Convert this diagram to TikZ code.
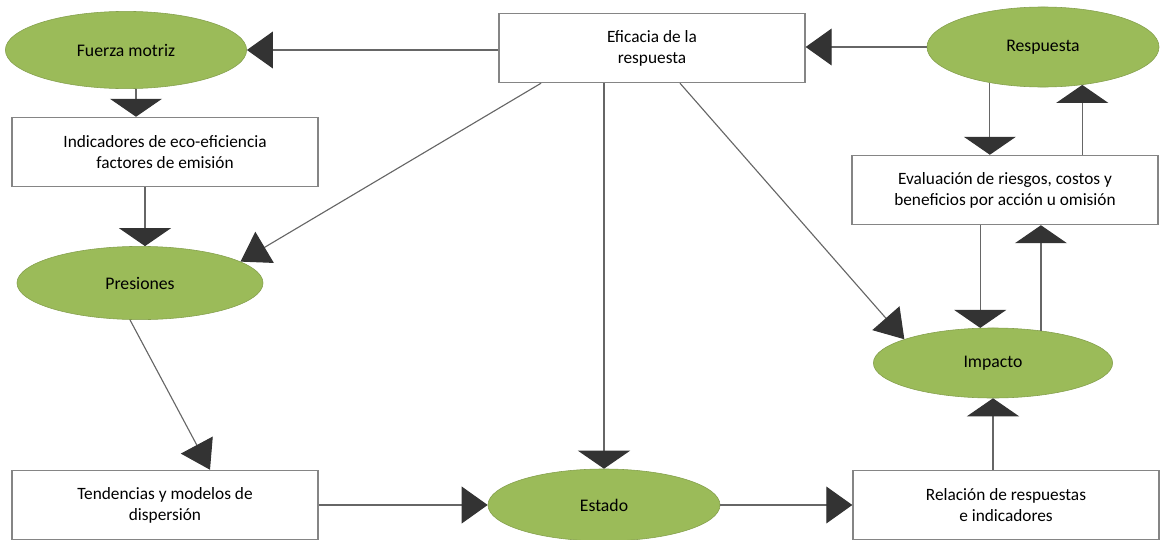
\documentclass[tikz,border=0pt]{standalone}
\usepackage{fontspec}
\setmainfont{Carlito}
\usetikzlibrary{shapes.geometric,arrows.meta}
\definecolor{verdehoja}{HTML}{9BBB59}
\definecolor{puntagris}{HTML}{333333}
\definecolor{lineagris}{HTML}{666666}
\definecolor{bordegris}{HTML}{858585}

\begin{document}
\begin{tikzpicture}[x=0.025cm, y=-0.025cm,
	caja/.style={draw=bordegris, line width=0.9pt, fill=white, minimum width=7.65cm, minimum height=1.73cm, align=center, font=\fontsize{12.3}{15}\selectfont},
	elipse/.style={ellipse, draw=verdehoja!85!black, line width=0.4pt, fill=verdehoja, inner sep=0pt, font=\fontsize{12.6}{15}\selectfont},
	flechav/.style={draw=lineagris, line width=0.8pt, -{Triangle[width=1.3cm, length=0.45cm, color=puntagris]}},
	flechah/.style={draw=lineagris, line width=0.8pt, -{Triangle[width=0.92cm, length=0.65cm, color=puntagris]}},
	flechad/.style={draw=lineagris, line width=0.8pt, -{Triangle[width=0.9cm, length=0.7cm, color=puntagris]}}]
		\useasboundingbox (0,0) rectangle (1160,540); % Fix the frame

		\node[elipse, minimum width=6.03cm, minimum height=1.93cm] (fuerza) at (126,50) {Fuerza motriz}; % Draw the driving force
		\node[caja] (indic) at (165,152) {Indicadores de eco-eficiencia\\factores de emisión}; % Draw the indicators box
		\node[caja] (efic) at (652,48) {Eficacia de la\\respuesta}; % Draw the efficacy box
		\node[elipse, minimum width=5.8cm, minimum height=2cm] (resp) at (1043,47) {Respuesta}; % Draw the response
		\node[caja] (evalu) at (1005,190) {Evaluación de riesgos, costos y\\beneficios por acción u omisión}; % Draw the evaluation box
		\node[elipse, minimum width=6.15cm, minimum height=1.83cm] (pres) at (140,283) {Presiones}; % Draw the pressures
		\node[caja] (tend) at (165,505) {Tendencias y modelos de\\dispersión}; % Draw the trends box
		\node[elipse, minimum width=5.8cm, minimum height=1.8cm] (estado) at (604,505) {Estado}; % Draw the state
		\node[caja] (relac) at (1006,505) {Relación de respuestas\\e indicadores}; % Draw the relation box
		\node[elipse, minimum width=5.98cm, minimum height=1.75cm] (impacto) at (993,363) {Impacto}; % Draw the impact

		\draw[flechah] (efic.west |- fuerza.east) -- (fuerza.east); % Efficacy to driving force
		\draw[flechah] (resp.west) -- (resp.west -| efic.east); % Response to efficacy
		\draw[flechav] (fuerza.south -| 136,0) -- (indic.north -| 136,0); % Driving force to indicators
		\draw[flechav] (indic.south -| 145,0) -- (pres.north -| 145,0); % Indicators to pressures
		\draw[flechad] (efic.south -| 541,0) -- (pres.12); % Efficacy to pressures
		\draw[flechad] (pres.south -| 130,0) -- (tend.north -| 210,0); % Pressures to trends
		\draw[flechah] (tend.east) -- (estado.west); % Trends to state
		\draw[flechah] (estado.east) -- (relac.west); % State to relation
		\draw[flechav] (efic.south -| estado.north) -- (estado.north); % Efficacy to state
		\draw[flechad] (efic.south -| 680,0) -- (impacto.165); % Efficacy to impact
		\draw[flechav] (resp.214) -- (resp.214 |- evalu.north); % Response to evaluation
		\draw[flechav] (evalu.north -| resp.-44) -- (resp.-44); % Evaluation to response
		\draw[flechav] (evalu.south -| impacto.110) -- (impacto.110); % Evaluation to impact
		\draw[flechav] (impacto.34) -- (impacto.34 |- evalu.south); % Impact to evaluation
		\draw[flechav] (relac.north -| impacto.south) -- (impacto.south); % Relation to impact
	\end{tikzpicture}
\end{document}
